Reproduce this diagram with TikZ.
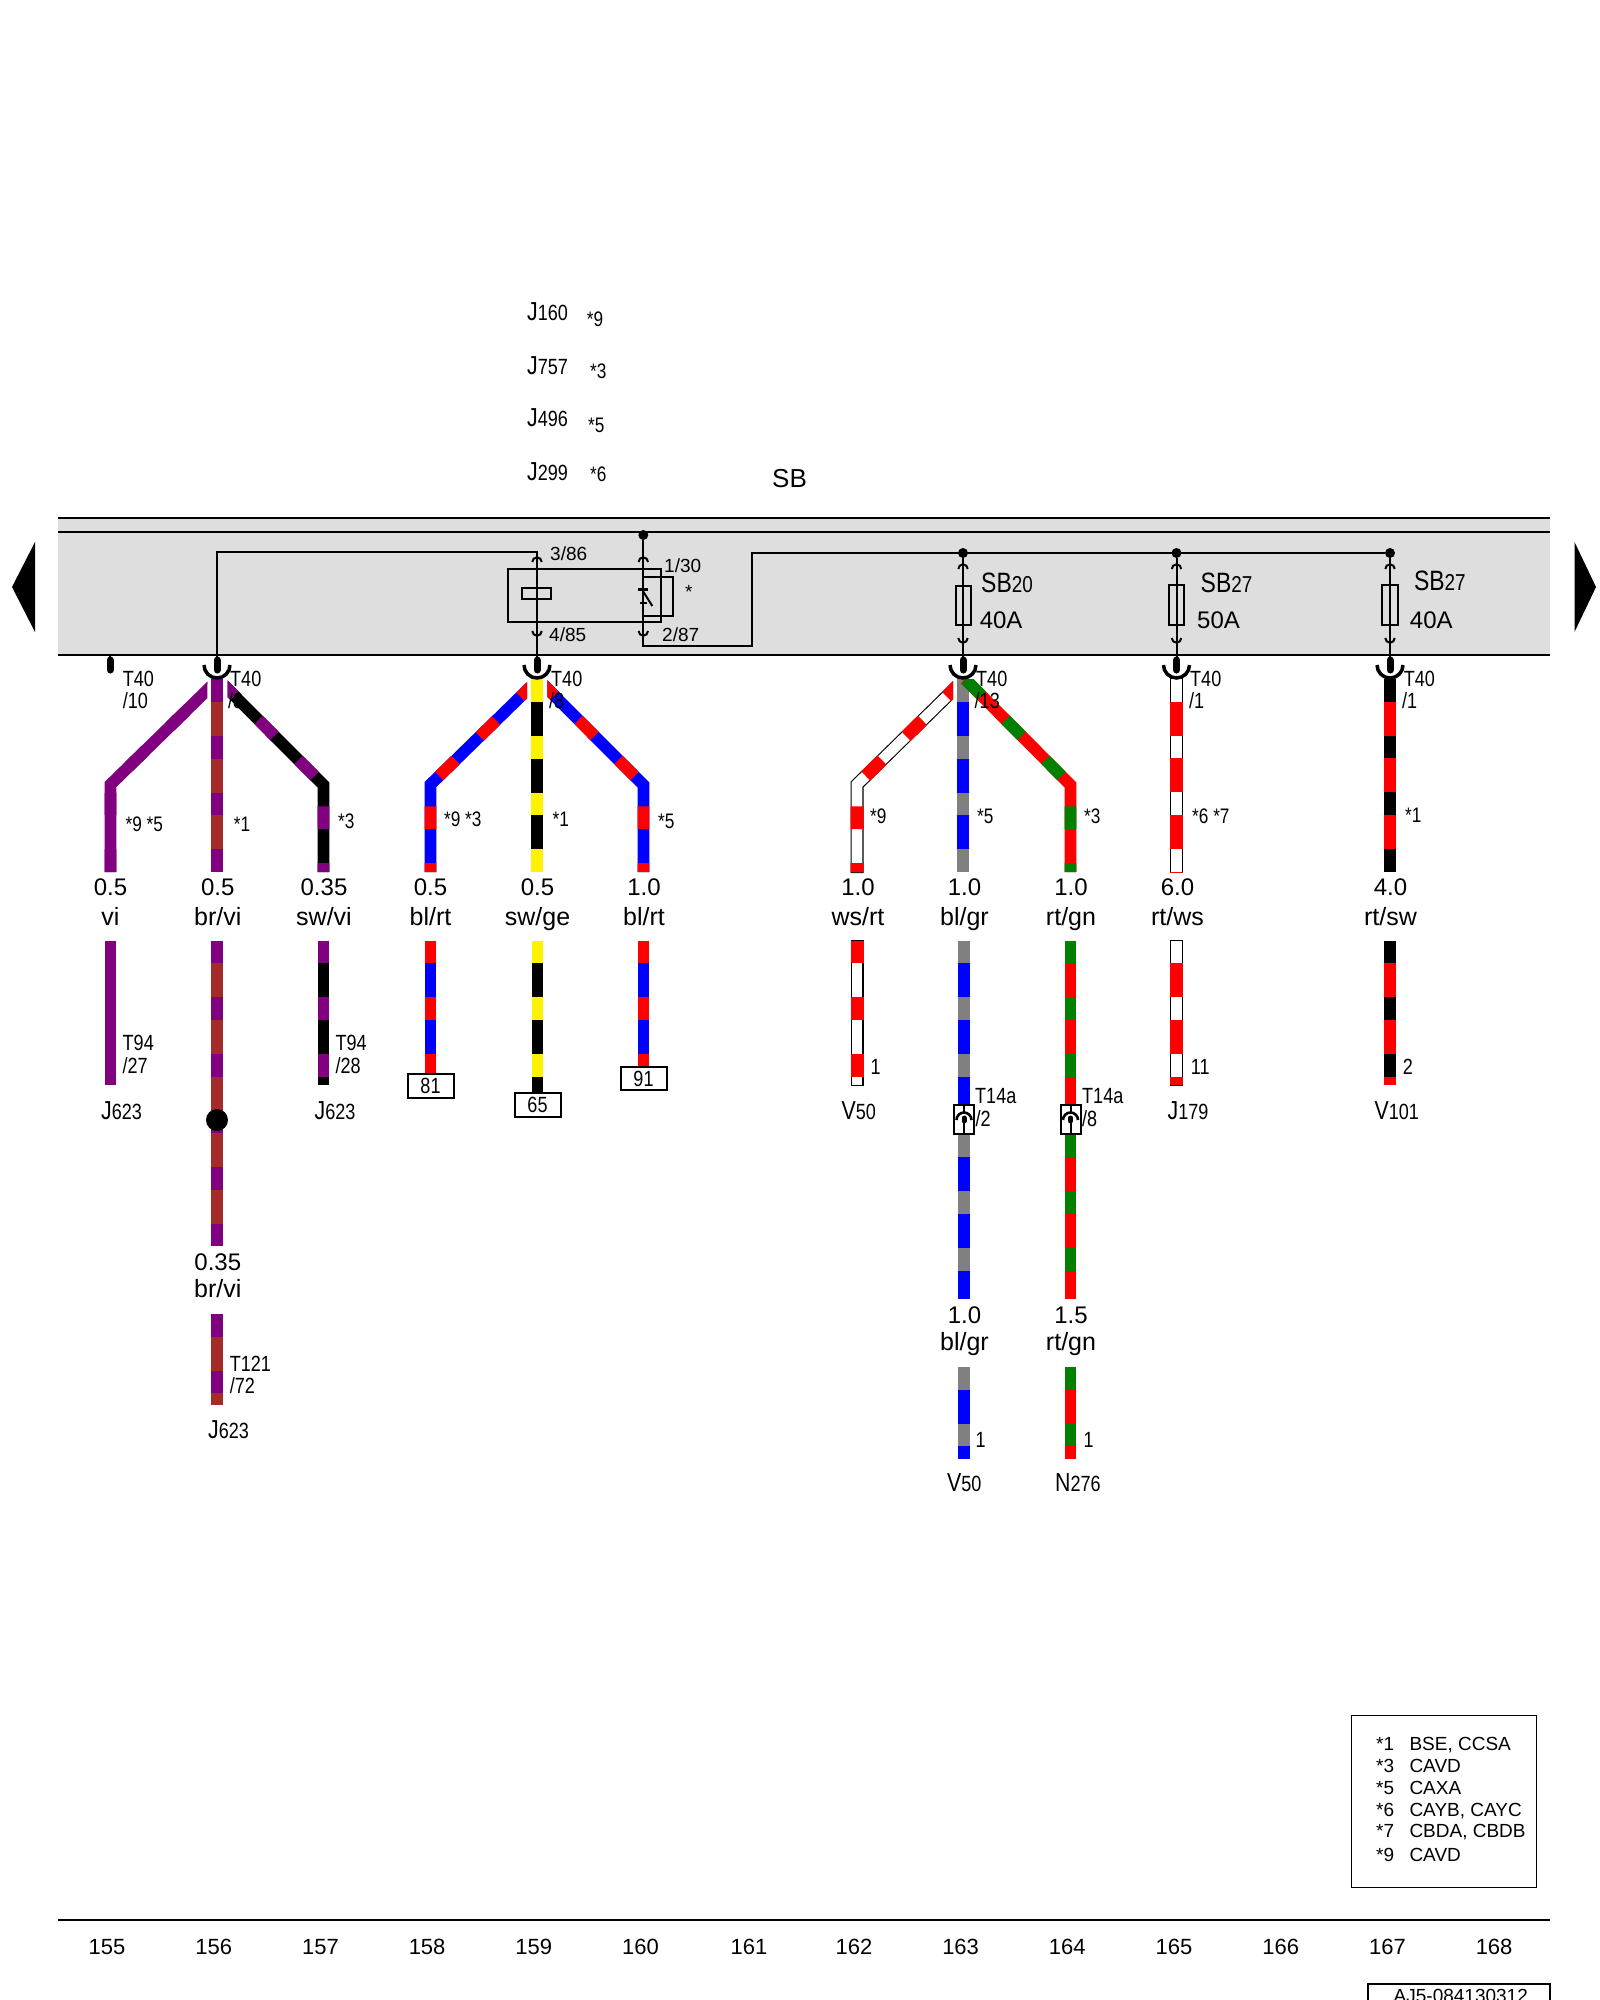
\documentclass[tikz,border=0pt]{standalone}
\usepackage{fontspec}
\setmainfont{Liberation Sans}
\newfontfamily\narrowfont[FakeStretch=0.82]{Liberation Sans}
\newcommand{\fs}[1]{\fontsize{#1}{#1}\selectfont}
\tikzset{
  lbl/.style={inner sep=0pt, anchor=base west},
  gauge/.style={inner sep=0pt, anchor=base, font=\fs{24}},
  colourlabel/.style={inner sep=0pt, anchor=base, font=\fs{25}},
  pinlabel/.style={lbl, font=\narrowfont\fs{22}},
  starlabel/.style={lbl, font=\narrowfont\fs{21}},
  partlabel/.style={lbl, font=\narrowfont\fs{27}},
  termlabel/.style={lbl, font=\fs{19}},
  ratelabel/.style={lbl, font=\fs{24}},
  legendlabel/.style={lbl, font=\fs{19}},
  pagelabel/.style={inner sep=0pt, anchor=base, font=\fs{22}},
  dot/.style={circle, fill=black, inner sep=0pt, minimum size=10pt},
  thinwire/.style={line width=2pt, draw=black},
  heavyline/.style={line width=2.4pt, draw=black},
  pinrod/.style={line width=7pt, line cap=round, draw=black},
  cup/.style={line width=3.5pt, draw=black},
  endbox/.style={draw=black, line width=2pt, fill=white, minimum width=46pt, minimum height=23.5pt, inner sep=0pt, font=\narrowfont\fs{22}},
  wire/.style n args={3}{line width=11.8pt, draw=#2, postaction={draw=#1, dash pattern=on 22.7pt off 34pt, dash phase=#3}},
  redwhite/.style={preaction={draw=black, line width=13pt, shorten >=-1pt, shorten <=-1pt}, line width=10.8pt, draw=white, postaction={draw=red, line width=13pt, dash pattern=on 22.7pt off 34pt, dash phase=#1}},
  whitered/.style={preaction={draw=black, line width=13pt, shorten >=-1pt, shorten <=-1pt}, line width=10.8pt, draw=white, postaction={draw=red, line width=13pt, dash pattern=on 34pt off 22.7pt, dash phase=34pt}},
}
\definecolor{bandgrey}{HTML}{DEDEDE}
\definecolor{wirevi}{HTML}{800080}
\definecolor{wirebr}{HTML}{A52A2A}
\definecolor{wiregn}{HTML}{008000}
\definecolor{wiregr}{HTML}{808080}
\newcommand{\partno}[2]{{\fs{26}#1}{\fs{22}#2}}
\begin{document}
\begin{tikzpicture}[x=1pt, y=-1pt]
                            \useasboundingbox (0,0) rectangle (1600,2000);

                            % Drawing band
                            \fill [bandgrey] (58,518) rectangle (1550,655);%
                            \draw [heavyline] (58,518) -- (1550,518);%
                            \draw [heavyline] (58,532) -- (1550,532);%
                            \draw [heavyline] (58,655) -- (1550,655);%
                            \fill (35,542) -- (35,632) -- (12,587) -- cycle;%
                            \fill (1574.5,542) -- (1574.5,632) -- (1596,587) -- cycle;%

                            % Marking top texts
                            \node [partlabel] (j160) at (527,320.7) {\partno{J}{160}};%
                            \node [partlabel] (j757) at (527,374) {\partno{J}{757}};%
                            \node [partlabel] (j496) at (527,426.7) {\partno{J}{496}};%
                            \node [partlabel] (j299) at (527,480) {\partno{J}{299}};%
                            \node [starlabel] (s160) at (586.7,326) {*9};%
                            \node [starlabel] (s757) at (590,378) {*3};%
                            \node [starlabel] (s496) at (588,432.7) {*5};%
                            \node [starlabel] (s299) at (590,481.7) {*6};%
                            \node [lbl, font=\fs{26}] (sb) at (772,487) {SB};%

                            % Drawing relay
                            \node [dot] (d643) at (643.3,535) {};%
                            \node [dot] (d963) at (963,553) {};%
                            \node [dot] (d1176) at (1176.5,553) {};%
                            \node [dot] (d1390) at (1390,553) {};%
                            \coordinate (t217) at (217,667);%
                            \coordinate (t537) at (537,667);%
                            \coordinate (t963) at (963,667);%
                            \coordinate (t1176) at (1176.5,667);%
                            \coordinate (t1390) at (1390,667);%
                            \draw [thinwire] (t217) |- (537,552) -- (t537);%
                            \draw [thinwire] (508.3,569.3) rectangle (661,622.3);%
                            \draw [thinwire] (643.3,576.7) rectangle (672.7,615.7);%
                            \draw [thinwire, fill=bandgrey] (522.3,588.3) rectangle (551,598.7);%
                            \draw [thinwire] (537,552) -- (t537);%
                            \draw [thinwire] (d643) -- (643.3,589);%
                            \draw [line width=3.5pt] (638.3,589.3) -- (648.3,589.3);%
                            \draw [thinwire] (643.3,591.7) -- (652.3,606);%
                            \draw [thinwire] (640,603.3) -- (646.7,603.3);%
                            \draw [thinwire] (643.3,603.3) |- (751.7,645.7) |- (d1390);%
                            \draw [thinwire] (532.3,562) arc [start angle=180, end angle=360, radius=4.7];%
                            \draw [thinwire] (532.3,631) arc [start angle=180, end angle=0, radius=4.7];%
                            \draw [thinwire] (638.6,562) arc [start angle=180, end angle=360, radius=4.7];%
                            \draw [thinwire] (638.6,631) arc [start angle=180, end angle=0, radius=4.7];%

                            % Drawing fuses
                            \draw [thinwire] (d963) -- (t963);%
                            \draw [thinwire] (d1176) -- (t1176);%
                            \draw [thinwire] (d1390) -- (t1390);%
                            \draw [thinwire] (955.6,586) rectangle (971.4,625);%
                            \draw [thinwire] (1168.6,585) rectangle (1184.4,625);%
                            \draw [thinwire] (1382.1,585) rectangle (1397.9,625);%
                            \draw [thinwire] (958.3,569) arc [start angle=180, end angle=360, radius=4.7];%
                            \draw [thinwire] (958.3,638) arc [start angle=180, end angle=0, radius=4.7];%
                            \draw [thinwire] (1171.8,569) arc [start angle=180, end angle=360, radius=4.7];%
                            \draw [thinwire] (1171.8,638) arc [start angle=180, end angle=0, radius=4.7];%
                            \draw [thinwire] (1385.3,569) arc [start angle=180, end angle=360, radius=4.7];%
                            \draw [thinwire] (1385.3,638) arc [start angle=180, end angle=0, radius=4.7];%

                            % Marking band texts
                            \node [termlabel] (p386) at (550,560.7) {3/86};%
                            \node [termlabel] (p130) at (664,572.3) {1/30};%
                            \node [termlabel] (p485) at (549,641.7) {4/85};%
                            \node [termlabel] (p287) at (662,641.7) {2/87};%
                            \node [termlabel] (rstar) at (685,598) {*};%
                            \node [partlabel] (sb20) at (981,592.7) {{\fs{28}SB}{\fs{23}20}};%
                            \node [partlabel] (sb27a) at (1200.5,592.7) {{\fs{28}SB}{\fs{23}27}};%
                            \node [partlabel] (sb27b) at (1413.8,590.7) {{\fs{28}SB}{\fs{23}27}};%
                            \node [ratelabel] (a40a) at (979.6,628.3) {40A};%
                            \node [ratelabel] (a50) at (1197,628.3) {50A};%
                            \node [ratelabel] (a40b) at (1409.7,628.3) {40A};%

                            % Drawing wires 155 to 157
                            \begin{scope}
                            \clip (0,679) rectangle (207.3,880);%
                            \draw [wire={wirevi}{wirevi}{0pt}] (110.5,872) -- (110.5,784.5) -- (217,680.5);%
                            \end{scope}
                            \draw [wire={wirevi}{wirebr}{0pt}] (217,872) -- (217,679);%
                            \begin{scope}
                            \clip (227.7,679) rectangle (400,880);%
                            \draw [wire={wirevi}{black}{13.7pt}] (323.5,872) -- (323.5,785) -- (217,678.3);%
                            \end{scope}

                            % Drawing wires 158 to 160
                            \begin{scope}
                            \clip (300,679) rectangle (527,880);%
                            \draw [wire={red}{blue}{13.7pt}] (430.5,872) -- (430.5,784.5) -- (537,680.5);%
                            \end{scope}
                            \draw [wire={yellow}{black}{0pt}] (537,872) -- (537,679);%
                            \begin{scope}
                            \clip (547.4,679) rectangle (700,880);%
                            \draw [wire={red}{blue}{13.7pt}] (643.5,872) -- (643.5,785) -- (537,678.3);%
                            \end{scope}

                            % Drawing wires 162 to 164
                            \begin{scope}
                            \clip (800,679) rectangle (953,880);%
                            \draw [redwhite=13.7pt] (857,872) -- (857,784.5) -- (963.5,680);%
                            \end{scope}
                            \draw [wire={wiregr}{blue}{0pt}] (963,872) -- (963,679);%
                            \begin{scope}
                            \clip (950,679) rectangle (1120,880);%
                            \draw [wire={wiregn}{red}{13.7pt}] (1070.5,872) -- (1070.5,785) -- (965,679);%
                            \end{scope}

                            % Drawing wires 165 and 167
                            \draw [whitered] (1176.5,679) -- (1176.5,872);%
                            \draw [wire={black}{red}{0pt}] (1390,679) -- (1390,872);%

                            % Drawing connectors T40
                            \draw [thinwire] (110,655) -- (110,660);%
                            \draw [pinrod] (110,660) -- (110,670);%
                            \draw [pinrod] (217,660) -- (217,670);%
                            \draw [pinrod] (537,660) -- (537,670);%
                            \draw [pinrod] (963,660) -- (963,670);%
                            \draw [pinrod] (1176.5,660) -- (1176.5,670);%
                            \draw [pinrod] (1390,660) -- (1390,670);%
                            \draw [cup] (204,665) arc [start angle=180, end angle=0, radius=13];%
                            \draw [cup] (524,665) arc [start angle=180, end angle=0, radius=13];%
                            \draw [cup] (950,665) arc [start angle=180, end angle=0, radius=13];%
                            \draw [cup] (1163.5,665) arc [start angle=180, end angle=0, radius=13];%
                            \draw [cup] (1377,665) arc [start angle=180, end angle=0, radius=13];%

                            % Marking T40 pins
                            \node [pinlabel] (t40a) at (122.7,686) {T40};%
                            \node [pinlabel] (t40an) at (122.7,708) {/10};%
                            \node [pinlabel] (t40b) at (230,686) {T40};%
                            \node [pinlabel] (t40bn) at (228,708) {/8};%
                            \node [pinlabel] (t40c) at (551,686) {T40};%
                            \node [pinlabel] (t40cn) at (549,708) {/8};%
                            \node [pinlabel] (t40d) at (976,686) {T40};%
                            \node [pinlabel] (t40dn) at (974.5,708) {/13};%
                            \node [pinlabel] (t40e) at (1190,686) {T40};%
                            \node [pinlabel] (t40en) at (1189,708) {/1};%
                            \node [pinlabel] (t40f) at (1403.6,686) {T40};%
                            \node [pinlabel] (t40fn) at (1402,708) {/1};%

                            % Marking variants
                            \node [starlabel] (v155) at (125.5,831) {*9 *5};%
                            \node [starlabel] (v156) at (233.7,831) {*1};%
                            \node [starlabel] (v157) at (338,828) {*3};%
                            \node [starlabel] (v158) at (444,826) {*9 *3};%
                            \node [starlabel] (v159) at (552.5,826) {*1};%
                            \node [starlabel] (v160) at (658,828) {*5};%
                            \node [starlabel] (v162) at (870,823) {*9};%
                            \node [starlabel] (v163) at (977,823) {*5};%
                            \node [starlabel] (v164) at (1084,823) {*3};%
                            \node [starlabel] (v165) at (1192,823) {*6 *7};%
                            \node [starlabel] (v167) at (1405,822) {*1};%

                            % Marking gauges and colours
                            \node [gauge] (g155) at (110.5,895.7) {0.5};%
                            \node [colourlabel] (c155) at (110.5,925) {vi};%
                            \node [gauge] (g156) at (217.8,895.7) {0.5};%
                            \node [colourlabel] (c156) at (217.8,925) {br/vi};%
                            \node [gauge] (g157) at (324,895.7) {0.35};%
                            \node [colourlabel] (c157) at (324,925) {sw/vi};%
                            \node [gauge] (g158) at (430.5,895.7) {0.5};%
                            \node [colourlabel] (c158) at (430.5,925) {bl/rt};%
                            \node [gauge] (g159) at (537.5,895.7) {0.5};%
                            \node [colourlabel] (c159) at (537.5,925) {sw/ge};%
                            \node [gauge] (g160) at (644,895.7) {1.0};%
                            \node [colourlabel] (c160) at (644,925) {bl/rt};%
                            \node [gauge] (g162) at (858,895.7) {1.0};%
                            \node [colourlabel] (c162) at (858,925) {ws/rt};%
                            \node [gauge] (g163) at (964.5,895.7) {1.0};%
                            \node [colourlabel] (c163) at (964.5,925) {bl/gr};%
                            \node [gauge] (g164) at (1071,895.7) {1.0};%
                            \node [colourlabel] (c164) at (1071,925) {rt/gn};%
                            \node [gauge] (g165) at (1177.5,895.7) {6.0};%
                            \node [colourlabel] (c165) at (1177.5,925) {rt/ws};%
                            \node [gauge] (g167) at (1390.5,895.7) {4.0};%
                            \node [colourlabel] (c167) at (1390.5,925) {rt/sw};%

                            % Drawing end boxes
                            \node [endbox] (b81) at (430.5,1086) {81};%
                            \node [endbox] (b65) at (537.5,1105) {65};%
                            \node [endbox] (b91) at (643.5,1078.7) {91};%

                            % Drawing lower wires
                            \draw [wire={wirevi}{wirevi}{0pt}] (110.5,940.5) -- (110.5,1085);%
                            \draw [wire={wirevi}{wirebr}{0pt}] (217,940.5) -- (217,1245.6);%
                            \draw [wire={wirevi}{black}{0pt}] (323.5,940.5) -- (323.5,1085);%
                            \draw [wire={red}{blue}{0pt}] (430.5,940.5) -- (b81.north);%
                            \draw [wire={yellow}{black}{0pt}] (537.5,940.5) -- (b65.north);%
                            \draw [wire={red}{blue}{0pt}] (643.5,940.5) -- (b91.north);%
                            \draw [wire={wirevi}{wirebr}{0pt}] (217,1314) -- (217,1405);%
                            \draw [redwhite=0pt] (857,940.5) -- (857,1085);%
                            \draw [whitered] (1176.5,940.5) -- (1176.5,1085);%
                            \draw [wire={black}{red}{0pt}] (1390,940.5) -- (1390,1085);%

                            % Drawing splice
                            \node [circle, fill=black, inner sep=0pt, minimum size=22pt] (sp156) at (217,1120) {};%

                            % Drawing wires through T14a
                            \draw [wire={wiregr}{blue}{0pt}] (964,940.5) -- (964,1105);%
                            \draw [wire={wiregr}{blue}{0pt}] (964,1134.5) -- (964,1299);%
                            \draw [wire={wiregn}{red}{0pt}] (1070.5,940.5) -- (1070.5,1105);%
                            \draw [wire={wiregn}{red}{0pt}] (1070.5,1134.5) -- (1070.5,1299);%
                            \draw [wire={wiregr}{blue}{0pt}] (964,1367) -- (964,1459);%
                            \draw [wire={wiregn}{red}{0pt}] (1070.5,1367) -- (1070.5,1459);%
                            \draw [thinwire, fill=white] (954,1105) rectangle (974,1134.4);%
                            \draw [thinwire, fill=white] (1060.5,1105) rectangle (1080.5,1134.4);%
                            \draw [thinwire] (964,1105) -- (964,1112.5);%
                            \draw [thinwire] (1070.5,1105) -- (1070.5,1112.5);%
                            \draw [thinwire] (964,1116) -- (964,1134.4);%
                            \draw [thinwire] (1070.5,1116) -- (1070.5,1134.4);%
                            \draw [line width=2.6pt] (956.5,1120) arc [start angle=180, end angle=360, radius=7.5];%
                            \draw [line width=2.6pt] (1063,1120) arc [start angle=180, end angle=360, radius=7.5];%
                            \draw [line width=5pt, line cap=round] (964,1118) -- (964,1121);%
                            \draw [line width=5pt, line cap=round] (1070.5,1118) -- (1070.5,1121);%

                            % Marking lower texts
                            \node [pinlabel] (t94a) at (122.5,1050) {T94};%
                            \node [pinlabel] (t94an) at (122.5,1073.7) {/27};%
                            \node [pinlabel] (t94b) at (335.4,1050) {T94};%
                            \node [pinlabel] (t94bn) at (335.4,1073.7) {/28};%
                            \node [partlabel] (j623a) at (101,1119) {\partno{J}{623}};%
                            \node [partlabel] (j623b) at (314.5,1119) {\partno{J}{623}};%
                            \node [gauge] (g156b) at (217.8,1270) {0.35};%
                            \node [colourlabel] (c156b) at (217.8,1297) {br/vi};%
                            \node [pinlabel] (t121) at (229.6,1371) {T121};%
                            \node [pinlabel] (t121n) at (229.6,1393.7) {/72};%
                            \node [partlabel] (j623c) at (208,1438.6) {\partno{J}{623}};%
                            \node [pinlabel] (n162) at (870.5,1074) {1};%
                            \node [pinlabel] (n165) at (1190.6,1074) {11};%
                            \node [pinlabel] (n167) at (1402.7,1074) {2};%
                            \node [partlabel] (v50a) at (841.5,1119) {\partno{V}{50}};%
                            \node [partlabel] (j179) at (1167.4,1119) {\partno{J}{179}};%
                            \node [partlabel] (v101) at (1374.5,1119) {\partno{V}{101}};%
                            \node [pinlabel] (t14a) at (975,1103.6) {T14a};%
                            \node [pinlabel] (t14an) at (975.5,1126.5) {/2};%
                            \node [pinlabel] (t14b) at (1082,1103.6) {T14a};%
                            \node [pinlabel] (t14bn) at (1082,1126.5) {/8};%
                            \node [gauge] (g163b) at (964.5,1323) {1.0};%
                            \node [colourlabel] (c163b) at (964.5,1350.6) {bl/gr};%
                            \node [gauge] (g164b) at (1071,1323) {1.5};%
                            \node [colourlabel] (c164b) at (1071,1350.6) {rt/gn};%
                            \node [pinlabel] (n163) at (975.5,1447.4) {1};%
                            \node [pinlabel] (n164) at (1083.5,1447.4) {1};%
                            \node [partlabel] (v50b) at (947,1491.7) {\partno{V}{50}};%
                            \node [partlabel] (n276) at (1055,1491.7) {\partno{N}{276}};%

                            % Drawing legend
                            \draw [line width=1.5pt] (1351.3,1715.3) rectangle (1536.7,1887.3);%
                            \node [legendlabel] (k1) at (1376,1750) {*1};%
                            \node [legendlabel] (l1) at (1409.3,1750) {BSE, CCSA};%
                            \node [legendlabel] (k3) at (1376,1772.3) {*3};%
                            \node [legendlabel] (l3) at (1409.3,1772.3) {CAVD};%
                            \node [legendlabel] (k5) at (1376,1794) {*5};%
                            \node [legendlabel] (l5) at (1409.3,1794) {CAXA};%
                            \node [legendlabel] (k6) at (1376,1816) {*6};%
                            \node [legendlabel] (l6) at (1409.3,1816) {CAYB, CAYC};%
                            \node [legendlabel] (k7) at (1376,1837.7) {*7};%
                            \node [legendlabel] (l7) at (1409.3,1837.7) {CBDA, CBDB};%
                            \node [legendlabel] (k9) at (1376,1861.7) {*9};%
                            \node [legendlabel] (l9) at (1409.3,1861.7) {CAVD};%

                            % Drawing page scale
                            \draw [heavyline] (58,1920) -- (1550,1920);%
                            \node [pagelabel] (m155) at (107,1954.3) {155};%
                            \node [pagelabel] (m156) at (213.7,1954.3) {156};%
                            \node [pagelabel] (m157) at (320.4,1954.3) {157};%
                            \node [pagelabel] (m158) at (427.1,1954.3) {158};%
                            \node [pagelabel] (m159) at (533.8,1954.3) {159};%
                            \node [pagelabel] (m160) at (640.5,1954.3) {160};%
                            \node [pagelabel] (m161) at (749,1954.3) {161};%
                            \node [pagelabel] (m162) at (853.9,1954.3) {162};%
                            \node [pagelabel] (m163) at (960.6,1954.3) {163};%
                            \node [pagelabel] (m164) at (1067.3,1954.3) {164};%
                            \node [pagelabel] (m165) at (1174,1954.3) {165};%
                            \node [pagelabel] (m166) at (1280.7,1954.3) {166};%
                            \node [pagelabel] (m167) at (1387.4,1954.3) {167};%
                            \node [pagelabel] (m168) at (1494.1,1954.3) {168};%

                            % Drawing footer
                            \draw [thinwire] (1368.3,2006) -- (1368.3,1984.3) -- (1550,1984.3) -- (1550,2006);%
                            \node [legendlabel, anchor=base] (foot) at (1460.8,2002) {AJ5-084130312};%
\end{tikzpicture}
\end{document}
